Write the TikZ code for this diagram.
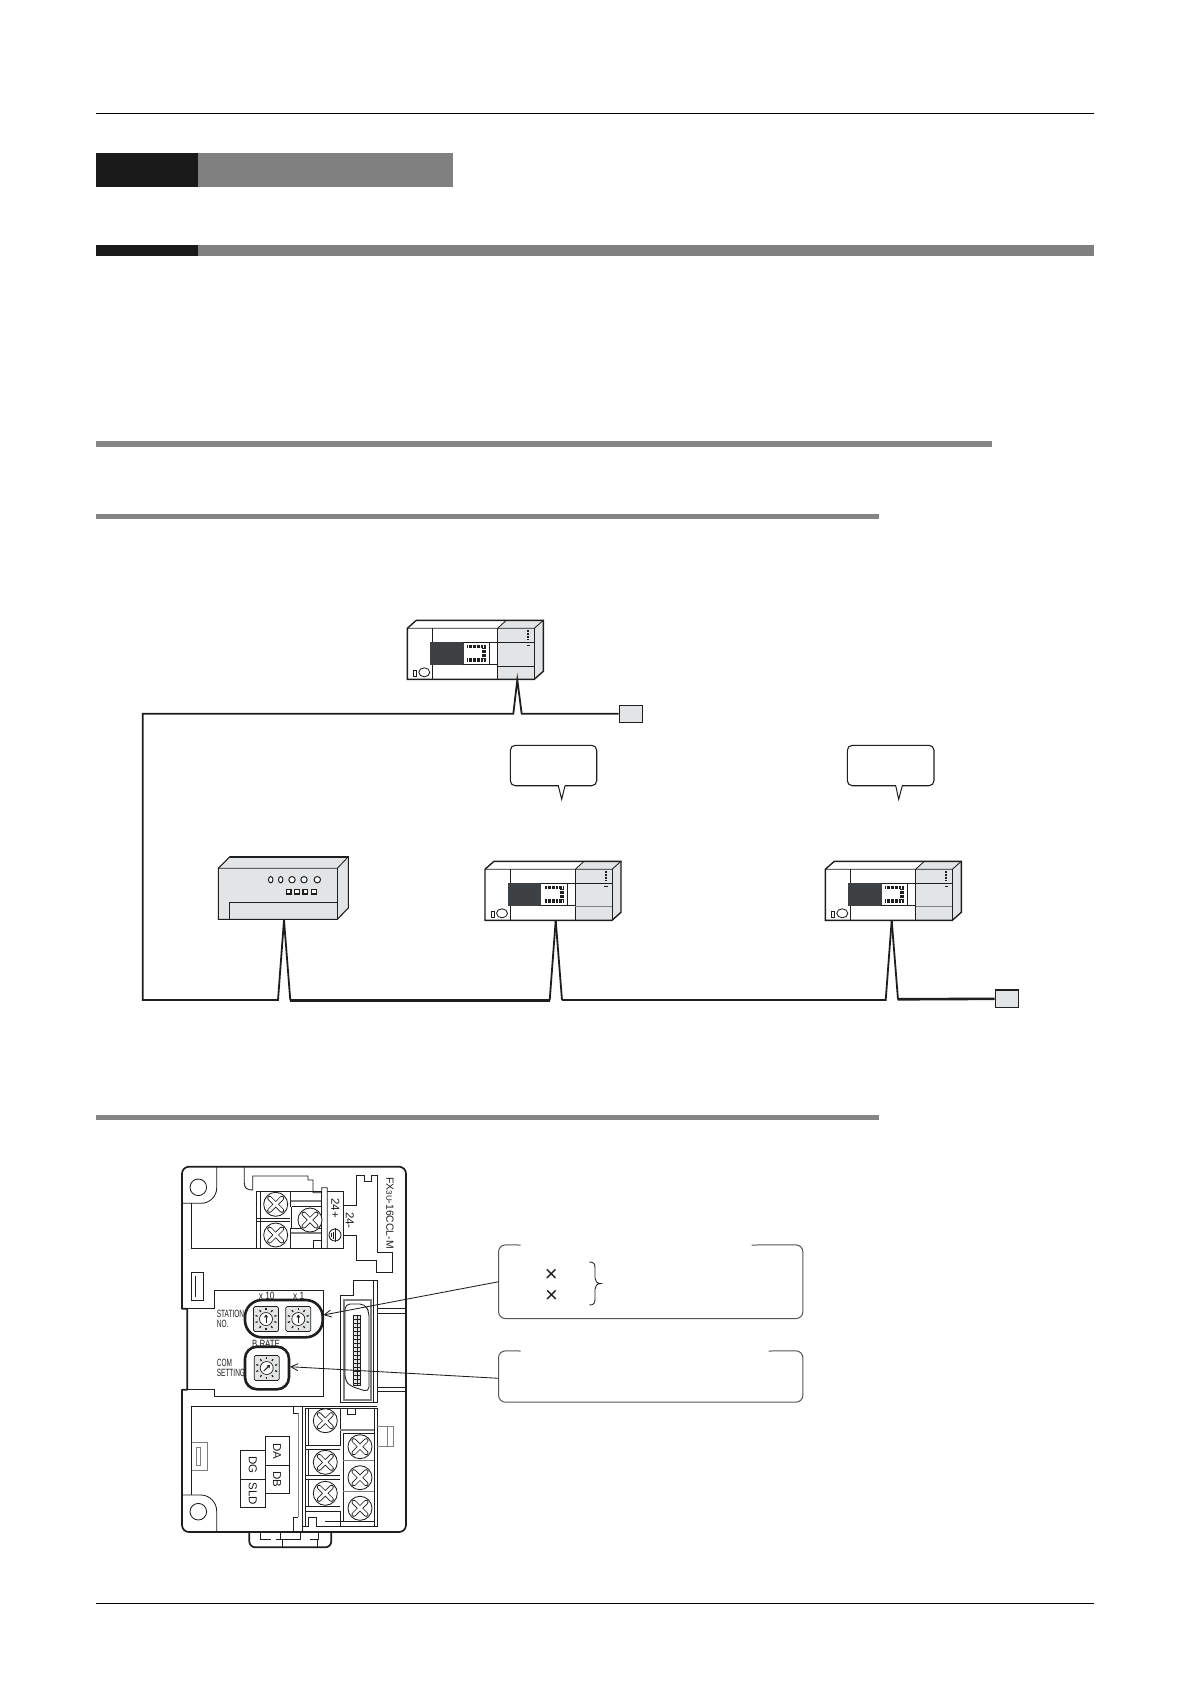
\documentclass[tikz,border=0pt]{standalone}
\usepackage{fontspec}
\setmainfont{Liberation Sans}
\usetikzlibrary{arrows.meta}
\definecolor{ink}{HTML}{1E1E1E}
\definecolor{bandK}{HTML}{1A1A1A}
\definecolor{bandG}{HTML}{808080}
\definecolor{devG}{HTML}{E3E4E5}
\definecolor{darkP}{HTML}{3E4143}
\definecolor{boxL}{HTML}{555555}
\tikzset{
  wire/.style={draw=ink,line width=1.8pt,line join=miter},
  thin line/.style={draw=ink,line width=.85pt},
  mid line/.style={draw=ink,line width=1.1pt},
  callout/.style={draw=ink,line width=1.1pt,rounded corners=5pt},
  boxline/.style={draw=boxL,line width=1pt,rounded corners=7pt},
  termbox/.style={draw=ink,fill=devG,line width=1.2pt},
  lab/.style={font=\fontsize{10.5}{10.5}\selectfont,inner sep=0pt,text=ink},
  vlab/.style={font=\fontsize{11.5}{11.5}\selectfont,inner sep=0pt,rotate=-90,text=ink},
  plc/.pic={
    \fill[white] (0,0) rectangle (127,51);
    \fill[devG] (90.3,0) rectangle (127,51);
    \fill[devG] (90.3,0) -- (99,-8) -- (136,-8) -- (127,0) -- cycle;
    \fill[devG] (127,0) -- (136,-8) -- (136,43) -- (127,51) -- cycle;
    \draw[draw=ink,line width=1.4pt] (0,51) -- (0,0) -- (9,-8) -- (136,-8) -- (136,43) -- (127,51) -- cycle;
    \draw[thin line] (0,0) -- (127,0) -- (136,-8);
    \draw[thin line] (127,0) -- (127,51);
    \draw[thin line] (90.3,0) -- (99,-8);
    \draw[thin line] (25.3,0) -- (25.3,14) (25.3,36.3) -- (25.3,51);
    \draw[thin line] (90.3,0) -- (90.3,51);
    \fill[darkP] (23,14) rectangle (56.3,36.3);
    \draw[thin line] (56,14) -- (127,14) (56,36.3) -- (90.3,36.3) (82,14) -- (82,36.3);
    \draw[draw=ink,line width=3.4pt,dash pattern=on .9pt off .45pt] (60,18.3) -- (78.5,18.3) (60,31.7) -- (78.5,31.7);
    \draw[draw=ink,line width=3.4pt,dash pattern=on .9pt off .45pt] (76.8,20) -- (76.8,30);
    \draw[draw=ink,line width=1.7pt,dash pattern=on 1pt off .5pt] (121,1.5) -- (121,12);
    \fill[ink] (119.3,16.4) rectangle (122.7,18);
    \draw[thin line] (6,42) rectangle (9.5,48);
    \draw[thin line] (17,44) ellipse [x radius=5.5pt,y radius=4.5pt];
  },
  xscrew/.pic={
    \draw[thin line,fill=white] (0,0) circle[radius=12pt];
    \draw[draw=ink,line width=4.6pt,line cap=round] (-6.2,-6.2) -- (6.2,6.2) (-6.2,6.2) -- (6.2,-6.2);
    \draw[draw=white,line width=3pt,line cap=round] (-6.2,-6.2) -- (6.2,6.2) (-6.2,6.2) -- (6.2,-6.2);
  },
  rotary/.pic={
    \draw[draw=ink,line width=.7pt,fill=devG,rounded corners=1.5pt] (-12.5,-12.5) rectangle (12.5,12.5);
    \foreach \a in {0,36,...,324}{
      \draw[draw=ink,line width=1.2pt] ({8.8*cos(\a+18)},{8.8*sin(\a+18)}) -- ({11*cos(\a+18)},{11*sin(\a+18)});
    }
    \draw[draw=ink,line width=.7pt,fill=white] (0,0) circle[radius=6.5pt];
  }
}
\begin{document}
\begin{tikzpicture}[x=1pt,y=-1pt]
\useasboundingbox (0,0) rectangle (1190,1684);
\fill[white] (0,0) rectangle (1190,1684);
% page furniture
\draw[draw=black,line width=1pt] (96,113.5) -- (1094,113.5);
\draw[draw=black,line width=1pt] (96,1603) -- (1094,1603);
\fill[bandK] (96,153) rectangle (198,187);
\fill[bandG] (198,153) rectangle (453,187);
\fill[bandK] (96,245) rectangle (198,256);
\fill[bandG] (198,245) rectangle (1094,256);
\fill[bandG!96!white] (96,441) rectangle (992,447);
\fill[bandG!96!white] (96,514) rectangle (879,519);
\fill[bandG!96!white] (96,1115) rectangle (879,1120);

% ---- network ----
\pic at (407.3,628.3) {plc};
\pic at (485,869.3) {plc};
\pic at (825.3,869.3) {plc};
\draw[draw=ink,line width=.85pt] (90.3+407.3,628.3+38) -- (127+407.3,628.3+38);
\draw[draw=gray,line width=1.2pt] (90.3+485,869.3+37) -- (127+485,869.3+37);
\draw[draw=gray,line width=1.2pt] (90.3+825.3,869.3+37) -- (127+825.3,869.3+37);

% remote device
\draw[draw=ink,line width=1.1pt,fill=devG] (218.3,919.3) -- (218.3,868.3) -- (230,856.7) -- (348.3,856.7) -- (348.3,908) -- (337.3,919.3) -- cycle;
\draw[thin line] (218.3,868.3) -- (337.3,868.3) -- (348.3,856.7);
\draw[thin line] (337.3,868.3) -- (337.3,919.3);
\draw[draw=ink,line width=1.6pt] (230,856.7) -- (348.3,856.7);
\draw[thin line] (229.3,919.3) -- (229.3,902.3) -- (337.3,902.3);
\foreach \p/\r in {270.7/2.2,280.7/2.2,292/3.2,304/3.2,317.3/3.2}{
  \draw[draw=ink,line width=1pt,fill=white] (\p,879.7) ellipse [x radius=\r pt,y radius=3.2pt];
}
\foreach \p in {288.7,297,305.3,314}{
  \draw[draw=ink,line width=1.5pt,fill=white] (\p-2.3,889.4) rectangle (\p+2.3,894);
}

% bus
\coordinate (apexA) at (517.3,680);
\coordinate (apexB) at (284,920);
\coordinate (apexC) at (555.7,920.5);
\coordinate (apexD) at (891.7,920.5);
\node[termbox,minimum width=23pt,minimum height=17pt,inner sep=0pt] (termA) at (630.8,713.8) {};
\node[termbox,minimum width=23.4pt,minimum height=17pt,inner sep=0pt] (termB) at (1007,998.8) {};
\draw[wire] (termA.west) -- (521.7,713.8) -- (apexA) -- (513.3,713.8) -- (142.7,713.8) -- (142.7,1000) -- (278,1000) -- (apexB);
\draw[wire] (apexB) -- (290.3,1000.3);
\draw[draw=ink,line width=2.5pt] (289.8,1000.3) -- (550.2,1000.3);
\draw[wire] (apexC) -- (549.7,1000.3);
\draw[wire] (apexC) -- (562,1000);
\draw[wire] (562,1000) -- (885.7,1000) -- (apexD);
\draw[wire] (apexD) -- (898,999.5);
\draw[draw=ink,line width=2.6pt] (897.6,999.3) -- (termB.west);
\draw[draw=ink,line width=1.8pt] (termB.north west) -- (termB.north east);

% speech bubbles
\node[callout,minimum width=86.4pt,minimum height=40.4pt,inner sep=0pt] (bubbleA) at (553.5,765.5) {};
\node[callout,minimum width=86.7pt,minimum height=40.4pt,inner sep=0pt] (bubbleB) at (890.65,765.5) {};
\fill[white] (558.8,784) rectangle (564.6,787);
\draw[draw=ink,line width=1pt] (558.3,785.7) -- (561.7,799.3) -- (565,785.7);
\fill[white] (896.2,784) rectangle (901.8,787);
\draw[draw=ink,line width=1pt] (895.7,785.7) -- (898.7,799.3) -- (902.3,785.7);

% ---- module ----
\draw[draw=ink,line width=1.7pt,line join=round]
  (187.3,1308.7) -- (182,1308.7) [rounded corners=7pt] -- (182,1166.7) -- (406,1166.7) -- (406,1532) -- (182,1532) [sharp corners] -- (182,1389.7) -- (187.3,1389.7) -- (187.3,1308.7);
% top-left corner hook
\draw[thin line] (182,1203.3) -- (201,1203.3) .. controls (210,1203.3) and (216.7,1196) .. (216.7,1188) -- (216.7,1167);
\draw[thin line] (198.3,1187.3) circle[radius=8.3pt];
\draw[thin line] (191.7,1203.3) -- (191.7,1248.3) -- (327.3,1248.3);
% top terminal
\draw[thin line] (244.3,1167) -- (244.3,1183) .. controls (244.3,1188) and (247,1190) .. (252.7,1190) -- (252.7,1176) -- (308,1176) -- (308,1180) -- (313,1180) -- (313,1192.7) -- (321.7,1192.7) -- (321.7,1187.7) -- (327.3,1187.7) -- (327.3,1248.3);
\draw[thin line] (256,1191.7) -- (321.7,1191.7) -- (321.7,1248.3);
\draw[thin line] (256,1191.7) -- (256,1248.3) (260,1191.7) -- (260,1248.3);
\draw[draw=gray,line width=1.3pt] (290,1201) -- (321,1201) (290,1233) -- (321,1233);
\draw[thin line] (290,1191.7) -- (290,1206.7) (291.7,1206.7) -- (321.7,1206.7) (291.7,1206.7) -- (291.7,1228) -- (321.7,1228) (290,1228) -- (290,1248.3);
\draw[thin line] (256,1218.3) -- (290,1218.3) (256,1221.7) -- (290,1221.7);
\draw[thin line] (313,1248.3) -- (313,1240) -- (321.7,1240);
\pic at (275.7,1204.3) {xscrew};
\pic at (275.7,1235) {xscrew};
\pic at (310,1220) {xscrew};
\draw[thin line] (327.3,1191.7) -- (343,1191.7) -- (343,1248.3) -- (327.3,1248.3);
\draw[thin line] (343,1205) -- (356.7,1205) (343,1235) -- (356.7,1235);
\node[vlab] (l24p) at (335.3,1208) {24+};
\node[vlab] (l24m) at (350,1220.5) {24-};
\draw[thin line,fill=white] (335,1235) circle[radius=6pt];
\draw[thin line] (335,1228) -- (335,1242) (331,1233) -- (331,1237) (333,1231.5) -- (333,1238.5);
% model plate
\draw[thin line] (356.7,1205) -- (356.7,1175) -- (364,1175) -- (364,1181.7) -- (371.7,1181.7) -- (371.7,1175) -- (377.3,1175) -- (377.3,1252.3) -- (392.7,1252.3) -- (392.7,1272.7) -- (376.7,1272.7) -- (376.7,1260) -- (356.7,1260) -- (356.7,1235);
\node[vlab,font=\fontsize{10.4}{10.4}\selectfont] (model) at (390,1213) {FX{\fontsize{8}{8}\selectfont 3U}-16CCL-M};
% small latch
\draw[thin line] (191.7,1272.7) rectangle (203.3,1300);
\draw[thin line] (195,1276) -- (195,1297);
% switch panel
\draw[thin line] (182,1308.7) -- (214.3,1308.7) -- (214.3,1290) -- (323.7,1290) -- (323.7,1396.5) -- (214.3,1396.5) -- (214.3,1389.7) -- (182,1389.7);
\pic at (266,1319) {rotary};
\pic at (298.3,1319) {rotary};
\pic at (266.7,1368) {rotary};
\draw[draw=ink,line width=2.6pt,rounded corners=17pt] (245,1300) rectangle (322.7,1337.3);
\draw[draw=ink,line width=2.6pt,rounded corners=12pt] (245,1346.7) rectangle (289,1389.3);
\draw[draw=ink,line width=1pt,-{Straight Barb[length=2pt,width=3pt]}] (266,1323) -- (266,1314.5);
\draw[draw=ink,line width=1pt,-{Straight Barb[length=2pt,width=3pt]}] (298.3,1323) -- (298.3,1314.5);
\draw[draw=ink,line width=1pt,-{Straight Barb[length=2pt,width=3pt]}] (263.7,1371) -- (270,1365);
\node[lab,xscale=.62,anchor=west] (tStation) at (216.7,1314) {STATION};
\node[lab,xscale=.62,anchor=west] (tNo) at (216.7,1324) {NO.};
\node[lab,xscale=.8] (tx10) at (266.7,1296.2) {x 10};
\node[lab,xscale=.8] (tx1) at (298.7,1296.2) {x 1};
\node[lab,xscale=.75] (tRate) at (266,1343.5) {B RATE};
\node[lab,xscale=.62,anchor=west] (tCom) at (216.7,1362.7) {COM};
\node[lab,xscale=.62,anchor=west] (tSet) at (216.7,1373.2) {SETTING};
% D-sub connector
\draw[thin line] (377.3,1280.7) -- (353.3,1280.7) -- (353.3,1295.7) -- (340.7,1295.7) -- (340.7,1402.7) -- (377.3,1402.7) -- cycle;
\draw[draw=ink,line width=.7pt] (373.6,1281) -- (373.6,1402.5);
\draw[draw=gray,line width=1.1pt] (344,1300) -- (371,1300) -- (371,1400) -- (344,1400) -- cycle;
\draw[thin line,rounded corners=5pt] (345,1304) -- (365,1304) -- (369,1312) -- (369,1392) -- (350,1386) -- (345,1380) -- cycle;
\draw[draw=ink,line width=.6pt,fill=devG] (353.3,1315) rectangle (360.7,1385);
\foreach \q in {1319,1323,...,1383}{
  \draw[draw=ink,line width=.5pt] (353.3,\q) -- (360.7,\q);
}
\draw[draw=ink,line width=.6pt] (357,1315) -- (357,1385);
\draw[thin line] (377.3,1308.3) -- (406,1308.3) (377.3,1313) -- (406,1313) (377.3,1387) -- (406,1387) (377.3,1391.7) -- (406,1391.7);
% lower part
\draw[thin line] (191.7,1495) -- (191.7,1406.7) -- (377.3,1406.7);
\draw[thin line] (182,1495) -- (201,1495) .. controls (210,1495) and (216.7,1503) .. (216.7,1511) -- (216.7,1532);
\draw[thin line] (198.3,1511.7) circle[radius=8.3pt];
\draw[draw=gray,line width=.8pt] (191.7,1442.3) -- (207.7,1442.3) -- (207.7,1470.7) -- (191.7,1470.7) (196,1447) -- (200,1447) -- (200,1465) -- (196,1465) -- cycle;
% label boxes
\draw[thin line] (265,1436.7) rectangle (289.3,1465);
\draw[thin line] (265,1465) rectangle (289.3,1493.3);
\draw[thin line] (240.7,1450.7) rectangle (265,1479.3);
\draw[thin line] (240.7,1479.3) rectangle (265,1507.7);
\node[vlab] (tDA) at (277.2,1451) {DA};
\node[vlab] (tDB) at (277.2,1479.5) {DB};
\node[vlab] (tDG) at (252.8,1465) {DG};
\node[vlab] (tSLD) at (252.8,1493.5) {SLD};
% lower terminal
\draw[draw=gray,line width=1.1pt] (298.3,1413) -- (298.3,1517);
\draw[thin line] (293,1407) -- (293,1413) -- (298,1413) (293,1524) -- (293,1517) -- (298,1517) (293,1524) -- (293,1532);
\draw[thin line] (302.7,1406.7) -- (302.7,1532);
\draw[thin line] (305,1408.3) -- (377.3,1408.3) -- (377.3,1526) -- (316.5,1526) -- (316.5,1517) -- (308,1517) -- (308,1526) -- (302.7,1526);
\draw[thin line] (305,1408.3) -- (305,1526);
\draw[draw=ink,line width=1.1pt] (308.5,1408.3) -- (308.5,1445) (308.5,1449) -- (308.5,1475.7) (308.5,1479.7) -- (308.5,1506.7);
\draw[thin line] (340,1408.3) -- (340,1445) -- (305,1445) (305,1449) -- (340,1449);
\draw[thin line] (305,1475.7) -- (340,1475.7) (305,1479.7) -- (340,1479.7) (305,1506.7) -- (340,1506.7) (305,1511.3) -- (340,1511.3);
\draw[thin line] (340,1511.3) -- (340,1526);
\draw[thin line] (343.3,1433) -- (343.3,1521.7) (343.3,1433) -- (374,1433) (325,1521.7) -- (374,1521.7);
\draw[draw=gray,line width=1.3pt] (340,1430) -- (374,1430) (343,1460.5) -- (374,1460.5) (343,1491.7) -- (374,1491.7);
\draw[draw=ink,line width=1pt] (374,1408.3) -- (374,1526);
\draw[thin line] (347.3,1408.3) -- (347.3,1414.3) -- (355.7,1414.3) -- (355.7,1408.3);
\draw[draw=gray,line width=.8pt] (377.3,1426.7) -- (393.7,1426.7) -- (393.7,1446.7) -- (377.3,1446.7) (387,1426.7) -- (387,1446.7);
\foreach \s in {1420.7,1462.3,1493.3}{ \pic at (325.3,\s) {xscrew}; }
\foreach \s in {1446.7,1477.7,1508.3}{ \pic at (360,\s) {xscrew}; }
% bottom clip
\draw[draw=ink,line width=1.7pt,rounded corners=6pt] (249.3,1532) -- (249.3,1547.3) -- (331.3,1547.3) -- (331.3,1532);
\draw[thin line] (260.7,1533) -- (260.7,1539.3) -- (271,1539.3) (276,1539.3) -- (300.7,1539.3) -- (300.7,1533) (280.5,1533) -- (280.5,1539.3) (282.7,1539.3) -- (282.7,1547) (318,1533) -- (318,1539.3) -- (310,1539.3) (317.3,1539.3) -- (317.3,1547);

% info boxes
\node[inner sep=0pt,minimum width=304pt,minimum height=73.3pt] (infoA) at (650.7,1281.7) {};
\node[inner sep=0pt,minimum width=304pt,minimum height=51pt] (infoB) at (650.7,1376.5) {};
\draw[boxline] (520.7,1245) -- (infoA.north west) -- (infoA.south west) -- (infoA.south east) -- (infoA.north east) -- (751.7,1245);
\draw[boxline] (520.7,1351) -- (infoB.north west) -- (infoB.south west) -- (infoB.south east) -- (infoB.north east) -- (768.7,1351);
\node[inner sep=0pt,text=ink,font=\fontsize{22}{22}\selectfont] (timesA) at (551.3,1275.6) {×};
\node[inner sep=0pt,text=ink,font=\fontsize{22}{22}\selectfont] (timesB) at (551.5,1295.9) {×};
\draw[draw=ink,line width=.85pt] (589.3,1262) .. controls (594,1262) and (595,1264) .. (595,1268) -- (595,1278) .. controls (595,1281) and (597,1283.5) .. (600.7,1283.5) .. controls (597,1283.5) and (595,1286) .. (595,1289) -- (595,1299) .. controls (595,1303) and (594,1305) .. (589.3,1305);
% arrows to the switches
\coordinate (tipA) at (323.3,1315);
\coordinate (tipB) at (290,1366.7);
\draw[draw=ink,line width=.85pt,-{Straight Barb[length=7pt,width=7pt]}] (498.7,1281.7) -- (tipA);
\draw[draw=ink,line width=.85pt,-{Straight Barb[length=7pt,width=7pt]}] (498.7,1378.3) -- (tipB);
\end{tikzpicture}
\end{document}
